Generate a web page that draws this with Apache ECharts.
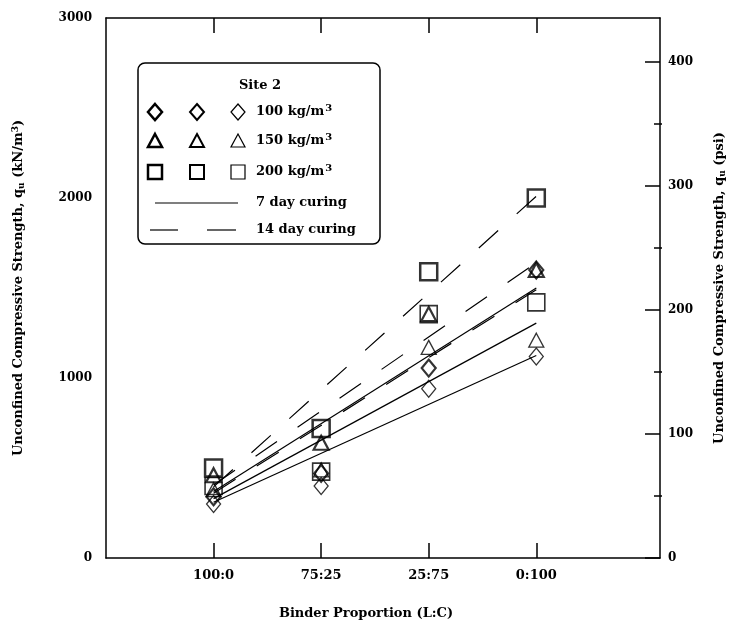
<!DOCTYPE html>
<html><head><meta charset="utf-8">
<script src="https://cdn.jsdelivr.net/npm/echarts@6/dist/echarts.min.js"></script>
<style>html,body{margin:0;padding:0;background:#fff}#c{width:735px;height:629px}</style>
</head><body><div id="c"></div>
<script>
// ---- data ----
const xPositions = [1, 2, 3, 4];
const xTickLabels = ['100:0', '75:25', '25:75', '0:100'];
const yLeftTicks = [0, 1000, 2000, 3000];
const yRightTicks = [0, 100, 200, 300, 400];
const yRightMinorTicks = [50, 150, 250, 350];
// measured strengths (kN/m2)
const d100_7 = [300, 400, 940, 1120];
const d100_14 = [340, 470, 1055, 1600];
const d150_7 = [380, 490, 1170, 1210];
const d150_14 = [460, 640, 1355, 1600];
const d200_7 = [400, 480, 1355, 1420];
const d200_14 = [500, 720, 1590, 2000];
// trend line end values at 100:0 and 0:100
const lineEnds = [1, 4];
const line7_100 = [310, 1125];
const line7_150 = [330, 1305];
const line7_200 = [370, 1500];
const line14_100 = [360, 1490];
const line14_150 = [405, 1640];
const line14_200 = [395, 2010];
const kPaPerPsi = 6.895;

// ---- chart ----
const FONT = 'DejaVu Serif';
const pair = (xs, ys) => xs.map((x, i) => [x, ys[i]]);
const transparent = 'rgba(0,0,0,0)';

function markerSeries(vals, symbol, size, bw) {
  return {
    type: 'scatter', xAxisIndex: 0, yAxisIndex: 0,
    data: pair(xPositions, vals), symbol: symbol, symbolSize: size,
    itemStyle: { color: transparent, borderColor: '#000', borderWidth: bw },
    z: 5, silent: true
  };
}
function lineSeries(vals, dashed) {
  return {
    type: 'line', xAxisIndex: 0, yAxisIndex: 0,
    data: pair(lineEnds, vals), symbol: 'none',
    lineStyle: { color: '#000', width: 1.2, type: dashed ? [26, 25] : 'solid' },
    z: 3, silent: true
  };
}

const labelStyle = { fontFamily: FONT, fontWeight: 'bold', fontSize: 12, color: '#000' };
const nameRich = {
  sub: { fontFamily: FONT, fontWeight: 'bold', fontSize: 9, color: '#000', verticalAlign: 'bottom', padding: [6, 0, 0, 0] },
  sup: { fontFamily: FONT, fontWeight: 'bold', fontSize: 9, color: '#000', verticalAlign: 'top', padding: [0, 0, 6, 0] }
};
const nameStyle = { fontFamily: FONT, fontWeight: 'bold', fontSize: 13, color: '#000', rich: nameRich };
const axisLineStyle = { show: true, onZero: false, lineStyle: { color: '#000', width: 1.5 } };
const tickLine = { color: '#000', width: 1.5 };

const chart = echarts.init(document.getElementById('c'), null, { renderer: 'canvas' });

// legend graphic
const legRows = [112, 141, 172];
const legCols = [155, 197, 238];
const legWidths = [2.5, 2, 1.2];
const legTexts = ['100 kg/m{sup|3}', '150 kg/m{sup|3}', '200 kg/m{sup|3}'];
const g = [];
g.push({ type: 'rect', shape: { x: 138, y: 63, width: 242, height: 181, r: 7 }, style: { fill: '#fff', stroke: '#000', lineWidth: 1.5 }, z: 10 });
g.push({ type: 'text', x: 260, y: 86, style: { text: 'Site 2', font: 'bold 13px "' + FONT + '"', fill: '#000', align: 'center', verticalAlign: 'middle' }, z: 11 });
legRows.forEach((y, r) => {
  legCols.forEach((x, c) => {
    const st = { fill: 'none', stroke: '#000', lineWidth: legWidths[c] };
    if (r === 0) g.push({ type: 'polygon', shape: { points: [[x, y - 8], [x + 7, y], [x, y + 8], [x - 7, y]] }, style: st, z: 11 });
    if (r === 1) g.push({ type: 'polygon', shape: { points: [[x, y - 7], [x + 7, y + 6], [x - 7, y + 6]] }, style: st, z: 11 });
    if (r === 2) g.push({ type: 'rect', shape: { x: x - 7, y: y - 7, width: 14, height: 14 }, style: st, z: 11 });
  });
  g.push({ type: 'text', x: 256, y: y, style: { text: legTexts[r], font: 'bold 13px "' + FONT + '"', fill: '#000', verticalAlign: 'middle',
    rich: { sup: { font: 'bold 10px "' + FONT + '"', fill: '#000', verticalAlign: 'top', padding: [0, 0, 8, 1] } } }, z: 11 });
});
g.push({ type: 'line', shape: { x1: 155, y1: 203, x2: 238, y2: 203 }, style: { stroke: '#000', lineWidth: 1.2 }, z: 11 });
g.push({ type: 'text', x: 256, y: 203, style: { text: '7 day curing', font: 'bold 13px "' + FONT + '"', fill: '#000', verticalAlign: 'middle' }, z: 11 });
g.push({ type: 'line', shape: { x1: 150, y1: 230, x2: 178, y2: 230 }, style: { stroke: '#000', lineWidth: 1.2 }, z: 11 });
g.push({ type: 'line', shape: { x1: 207, y1: 230, x2: 236, y2: 230 }, style: { stroke: '#000', lineWidth: 1.2 }, z: 11 });
g.push({ type: 'text', x: 256, y: 230, style: { text: '14 day curing', font: 'bold 13px "' + FONT + '"', fill: '#000', verticalAlign: 'middle' }, z: 11 });

// layout
const W = 735, H = 629;
const gridBox = { left: 106, right: 73, top: 18, bottom: 71, containLabel: false };
const psiMax = 3000 / kPaPerPsi;
const plotBottomPx = H - gridBox.bottom, plotH = H - gridBox.bottom - gridBox.top;
const psiToPx = v => plotBottomPx - v / psiMax * plotH;
const minorLo = yRightMinorTicks[0], minorHi = yRightMinorTicks[yRightMinorTicks.length - 1];
// grid aligned so that its y range [minorLo, minorHi] maps to the same pixels as on the main psi axis
const minorGrid = { left: gridBox.left, right: gridBox.right, top: psiToPx(minorHi), bottom: H - psiToPx(minorLo), containLabel: false };

const option = {
  animation: false,
  backgroundColor: '#fff',
  grid: [gridBox, minorGrid],
  xAxis: [
    {
      gridIndex: 0, type: 'value', position: 'bottom', min: 0, max: 5.15,
      axisLine: axisLineStyle,
      axisTick: { show: true, inside: true, length: 15, customValues: xPositions, lineStyle: tickLine },
      axisLabel: { show: true, customValues: xPositions, margin: 11, formatter: v => xTickLabels[xPositions.indexOf(v)] || '', ...labelStyle, fontSize: 13 },
      splitLine: { show: false },
      name: 'Binder Proportion (L:C)', nameLocation: 'middle', nameGap: 49,
      nameTextStyle: { ...nameStyle, padding: [0, 34, 0, 0] }
    },
    {
      gridIndex: 0, type: 'value', position: 'top', min: 0, max: 5.15,
      axisLine: axisLineStyle,
      axisTick: { show: true, inside: true, length: 15, customValues: xPositions, lineStyle: tickLine },
      axisLabel: { show: false }, splitLine: { show: false }
    },
    { gridIndex: 1, type: 'value', min: 0, max: 5.15, show: false }
  ],
  yAxis: [
    {
      gridIndex: 0, type: 'value', position: 'left', min: 0, max: 3000, interval: 1000,
      axisLine: axisLineStyle, axisTick: { show: false },
      axisLabel: { show: true, margin: 14, formatter: v => (yLeftTicks.indexOf(v) >= 0 ? String(v) : ''), ...labelStyle },
      splitLine: { show: false },
      name: 'Unconfined Compressive Strength, q{sub|u} (kN/m{sup|3})', nameLocation: 'middle', nameGap: 80,
      nameTextStyle: nameStyle
    },
    {
      gridIndex: 0, type: 'value', position: 'right', min: 0, max: psiMax,
      axisLine: axisLineStyle,
      axisTick: { show: true, inside: true, length: 15, customValues: yRightTicks, lineStyle: tickLine },
      axisLabel: { show: true, customValues: yRightTicks, margin: 8, formatter: v => String(v), ...labelStyle },
      splitLine: { show: false },
      name: 'Unconfined Compressive Strength, q{sub|u} (psi)', nameLocation: 'middle', nameGap: 52,
      nameTextStyle: nameStyle
    },
    {
      // minor psi ticks
      gridIndex: 1, type: 'value', position: 'right', min: minorLo, max: minorHi, interval: 100,
      axisLine: { show: false, onZero: false },
      axisTick: { show: true, inside: true, length: 8, lineStyle: tickLine },
      axisLabel: { show: false }, splitLine: { show: false }
    }
  ],
  series: [
    lineSeries(line7_100, false), lineSeries(line7_150, false), lineSeries(line7_200, false),
    lineSeries(line14_100, true), lineSeries(line14_150, true), lineSeries(line14_200, true),
    markerSeries(d100_7, 'diamond', [14, 17], 1.3),
    markerSeries(d100_14, 'diamond', [14, 17], 2.2),
    markerSeries(d150_7, 'triangle', [15, 14], 1.3),
    markerSeries(d150_14, 'triangle', [15, 14], 2.2),
    markerSeries(d200_7, 'rect', [17, 17], 1.6),
    markerSeries(d200_14, 'rect', [17, 17], 2.5)
  ],
  graphic: g
};
chart.setOption(option);
</script></body></html>
